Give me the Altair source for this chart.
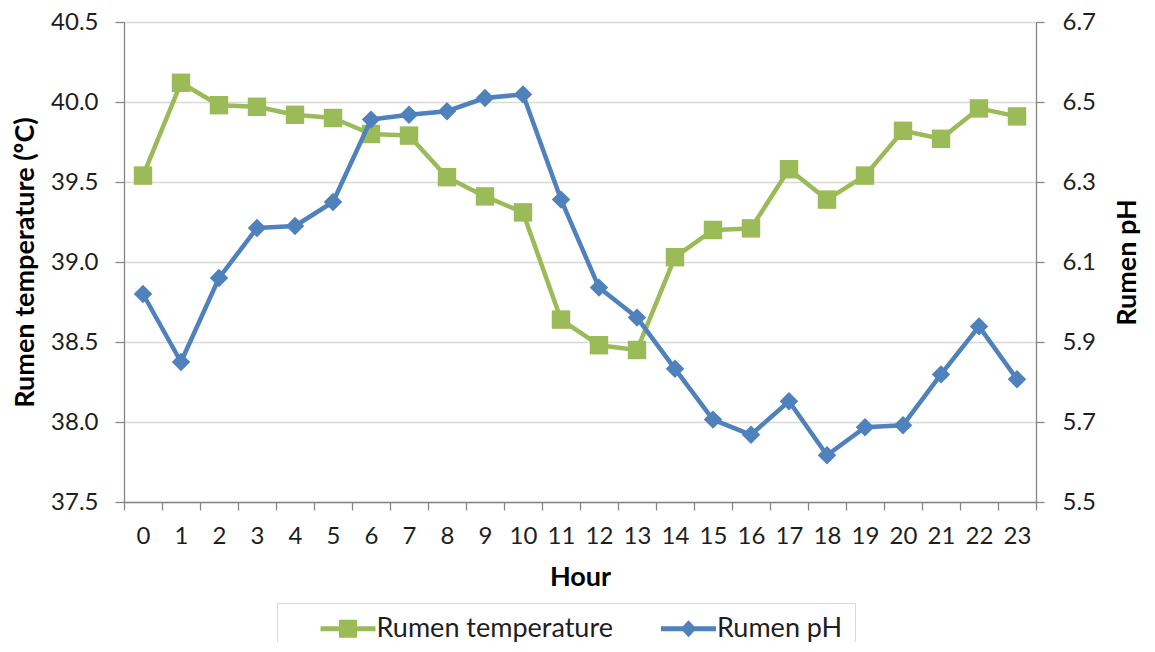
import altair as alt
import pandas as pd

hours = list(range(24))
rumen_temp = [39.54, 40.12, 39.98, 39.97, 39.92, 39.90, 39.80, 39.79, 39.53, 39.41,
              39.31, 38.64, 38.48, 38.45, 39.03, 39.20, 39.21, 39.58, 39.39, 39.54,
              39.82, 39.77, 39.96, 39.91]
rumen_ph = [6.02, 5.85, 6.06, 6.185, 6.19, 6.25, 6.456, 6.468, 6.477, 6.51,
            6.519, 6.256, 6.036, 5.961, 5.833, 5.706, 5.668, 5.752, 5.617, 5.687,
            5.692, 5.819, 5.939, 5.807]
series_names = ["Rumen temperature", "Rumen pH"]
series_colors = ["#9BBB59", "#4F81BD"]
temp_ticks = [37.5, 38.0, 38.5, 39.0, 39.5, 40.0, 40.5]
ph_ticks = [5.5, 5.7, 5.9, 6.1, 6.3, 6.5, 6.7]
hour_ticks = [h - 0.5 for h in range(25)]

df = pd.DataFrame({"hour": hours, "temp": rumen_temp, "ph": rumen_ph})
legend_df = pd.DataFrame({"series": series_names})

FONT = "Lato"
AXIS_GRAY = "#868686"
GRID_GRAY = "#d9d9d9"
TEXT = "#1e1e1e"
TITLE_SIZE = 27

# legend symbols: line through marker (custom paths)
sym_square = ("M-2.75,-0.25H-0.9V-0.9H0.9V-0.25H2.75V0.25H0.9V0.9H-0.9V0.25H-2.75Z")
sym_diamond = ("M-2.75,-0.25H2.75V0.25H-2.75Z M0,-0.85L0.8,0L0,0.85L-0.8,0Z")

x_enc = alt.X(
    "hour:Q",
    scale=alt.Scale(domain=[-0.5, 23.5], nice=False, zero=False),
    axis=alt.Axis(
        values=hour_ticks, orient="bottom", grid=False,
        labelExpr="datum.value > 23 ? '' : format(datum.value + 0.5, 'd')",
        labelOffset=19, labelFont=FONT, labelFontSize=24, labelColor=TEXT,
        labelPadding=14, labelFlush=False, labelOverlap=False,
        tickSize=8, tickColor=AXIS_GRAY, tickWidth=1.3,
        domainColor=AXIS_GRAY, domainWidth=1.3,
        title="Hour", titleFont=FONT, titleFontSize=TITLE_SIZE, titleFontWeight="bold",
        titleColor="#000", titleY=75, titleBaseline="middle",
    ),
)

temp_axis = alt.Axis(
    values=temp_ticks, format=".1f", orient="left", grid=True,
    gridColor=GRID_GRAY, gridWidth=1.3,
    domainColor=AXIS_GRAY, domainWidth=1.3,
    tickColor=AXIS_GRAY, tickWidth=1.3, tickSize=9,
    labelFont=FONT, labelFontSize=24, labelColor=TEXT, labelPadding=17,
    title="Rumen temperature (ºC)", titleFont=FONT, titleFontSize=TITLE_SIZE,
    titleFontWeight="bold", titleColor="#000", titleX=-99, titleY=240,
    titleAngle=270, titleBaseline="middle", titleAlign="center",
)
ph_axis = alt.Axis(
    values=ph_ticks, format=".1f", orient="right", grid=False,
    domainColor=AXIS_GRAY, domainWidth=1.3,
    tickColor=AXIS_GRAY, tickWidth=1.3, tickSize=8,
    labelFont=FONT, labelFontSize=24, labelColor=TEXT, labelPadding=18,
    title="Rumen pH", titleFont=FONT, titleFontSize=TITLE_SIZE,
    titleFontWeight="bold", titleColor="#000", titleX=91, titleY=240,
    titleAngle=270, titleBaseline="middle", titleAlign="center",
)

temp_y = alt.Y("temp:Q", scale=alt.Scale(domain=[37.5, 40.5], nice=False, zero=False), axis=temp_axis)
ph_y = alt.Y("ph:Q", scale=alt.Scale(domain=[5.5, 6.7], nice=False, zero=False), axis=ph_axis)

base = alt.Chart(df)
temp_line = base.mark_line(color=series_colors[0], strokeWidth=4.5, strokeJoin="round", strokeCap="round").encode(x=x_enc, y=temp_y)
temp_pts = base.mark_point(shape="square", filled=True, size=340, opacity=1, color=series_colors[0]).encode(x=x_enc, y=temp_y)

leg = alt.Legend(
    title=None, orient="none", legendX=153, legendY=581, direction="horizontal",
    labelFont=FONT, labelFontSize=27, labelColor=TEXT, labelLimit=0,
    symbolOffset=45.5, labelOffset=15,
    symbolSize=400, symbolStrokeWidth=0, symbolOpacity=1,
    columnPadding=16.5, padding=12, strokeColor=GRID_GRAY, fillColor="#ffffff",
)
legend_layer = alt.Chart(legend_df).transform_filter("false").mark_point(filled=True, opacity=1).encode(
    color=alt.Color("series:N", scale=alt.Scale(domain=series_names, range=series_colors), legend=leg),
    shape=alt.Shape("series:N", scale=alt.Scale(domain=series_names, range=[sym_square, sym_diamond]), legend=leg),
)

ph_line = base.mark_line(color=series_colors[1], strokeWidth=4.5, strokeJoin="round", strokeCap="round").encode(x=x_enc, y=ph_y)
ph_pts = base.mark_point(shape="diamond", filled=True, size=340, opacity=1, color=series_colors[1]).encode(x=x_enc, y=ph_y)

temp_layer = alt.layer(temp_line, temp_pts, legend_layer)
ph_layer = alt.layer(ph_line, ph_pts)

chart = alt.layer(temp_layer, ph_layer).resolve_scale(y="independent").properties(
    width=912, height=480,
    autosize=alt.AutoSizeParams(type="none"),
    padding={"left": 116, "top": 14, "right": 111, "bottom": 140},
).configure_view(stroke=None)

chart.save("out.html", embed_options={"renderer": "svg", "actions": False})
